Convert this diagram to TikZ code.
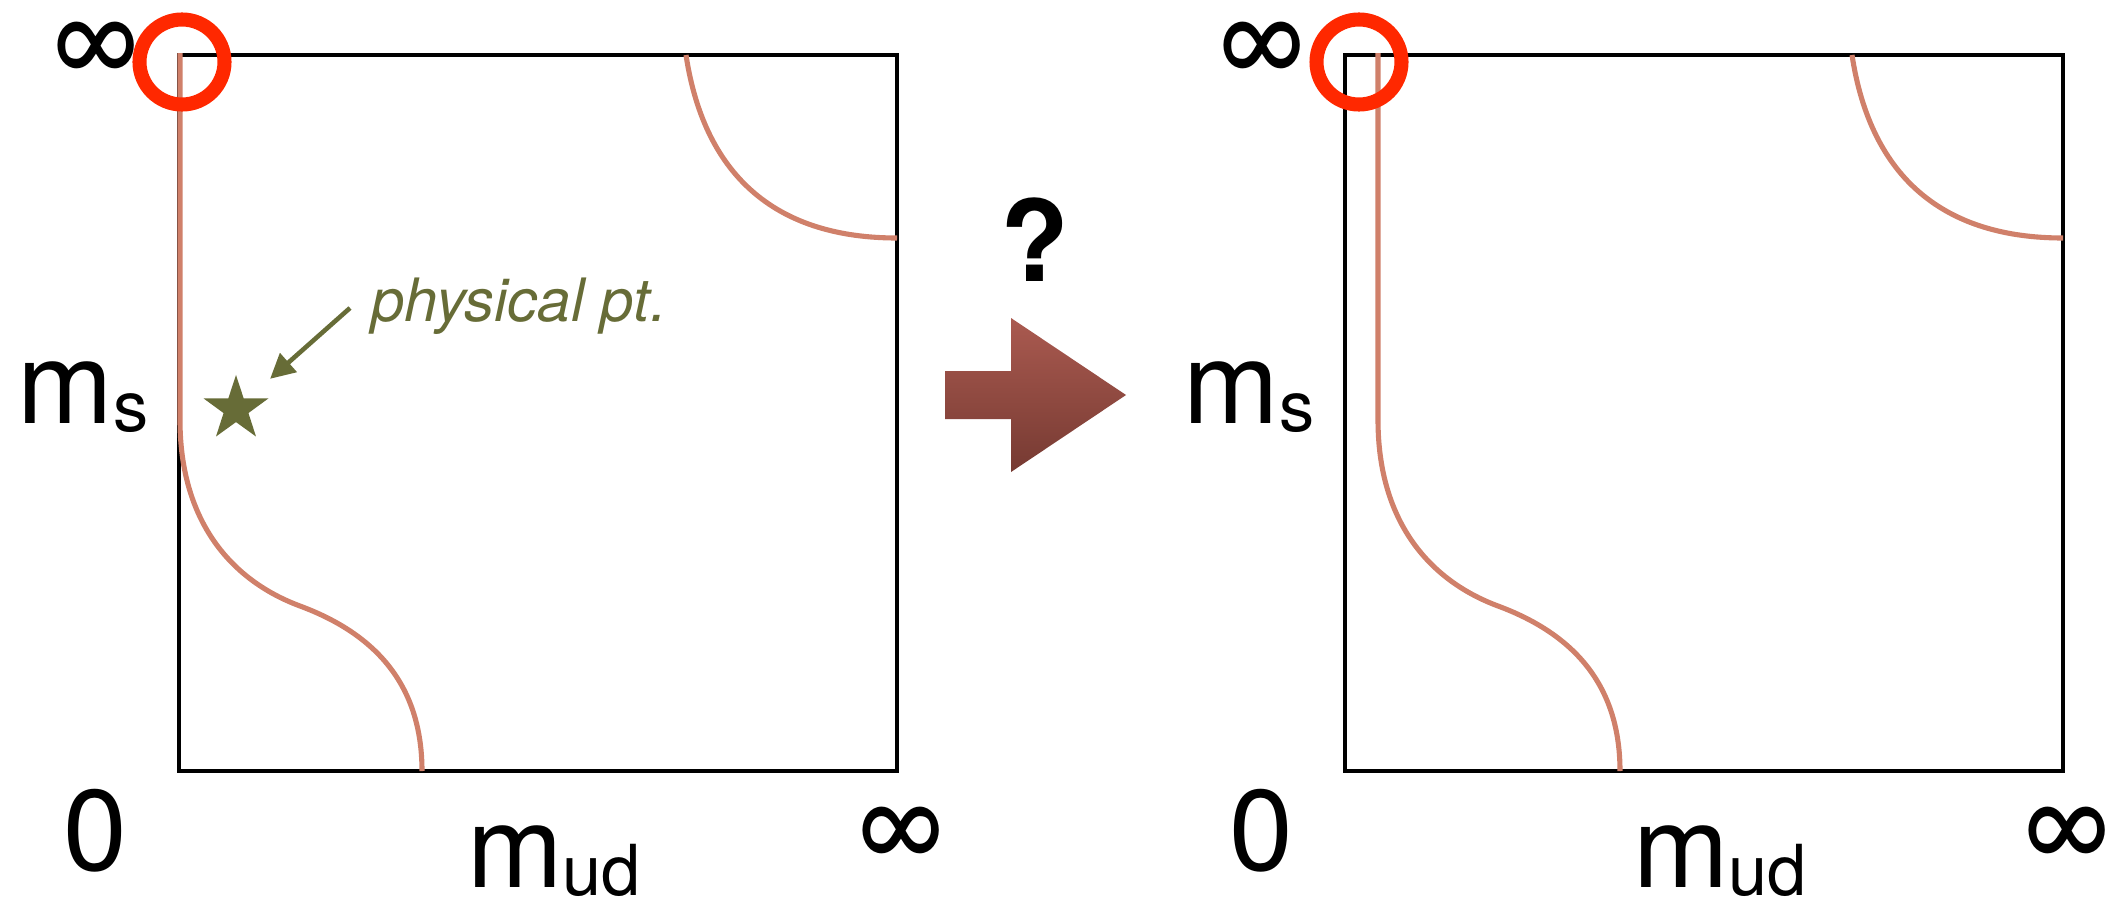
\documentclass[tikz,border=0pt]{standalone}
\usepackage{fontspec}
\setmainfont{TeX Gyre Heros}
\usetikzlibrary{shapes.geometric, arrows.meta, positioning, calc}
\definecolor{curvecolor}{RGB}{208, 128, 106}
\definecolor{ringred}{RGB}{255, 40, 0}
\definecolor{olivegreen}{RGB}{103, 108, 55}
\definecolor{arrowtop}{RGB}{170, 90, 80}
\definecolor{arrowbottom}{RGB}{118, 58, 50}
\newcommand{\massname}[1]{m\raisebox{-2.4pt}{\fontsize{20}{20}\selectfont #1}}

\begin{document}
\begin{tikzpicture}[
    x=0.01cm, y=-0.01cm,
    frame/.style={draw=black, line width=1.4pt},
    transition/.style={draw=curvecolor, line width=1.45pt},
    ring/.style={draw=ringred, line width=4pt},
    axislabel/.style={inner sep=0pt, font=\fontsize{32.6}{36}\selectfont},
    ptarrow/.style={-{Triangle[length=7pt, width=7pt]}, line width=1.3pt, olivegreen}
  ]
  \useasboundingbox (0,0) rectangle (2118,897);

  % Two panels: box, transition lines, labels, corner ring
  \foreach \dx/\cs/\rx [count=\i] in {0/0/182, 1166/32/193} {
    \begin{scope}[shift={(\dx,0)}]
      \draw[frame] (179,55) rectangle (897,771);
      \begin{scope}[shift={(\cs,0)}]
        \draw[transition] (180,53) -- (180,420)
          .. controls (180,520) and (230,580) .. (300,606)
          .. controls (370,632) and (422,680) .. (422,771);
      \end{scope}
      \draw[transition] (686,55) .. controls (705,180) and (780,238) .. (897,238);

      \node[axislabel] (inftop\i) at (96,49) {∞};
      \node[axislabel, anchor=base] (ms\i) at (83,423) {\massname{s}};
      \node[axislabel, anchor=base] (zero\i) at (95,870) {0};
      \node[axislabel, anchor=base] (mud\i) at (554,887) {\massname{ud}};
      \node[axislabel] (infright\i) at (901,834) {∞};

      \draw[ring] (\rx,62) circle (42.5);
    \end{scope}
  }

  % Physical point
  \node[star, star points=5, star point ratio=2.6, fill=olivegreen, minimum size=0.68cm, inner sep=0pt] (physstar) at (236,409) {};
  \node[inner sep=0pt, anchor=base west, text=olivegreen, font=\itshape\fontsize{17}{20}\selectfont] (physlabel) at (371,321) {physical pt.};
  \coordinate (physarrow) at (350,308);
  \draw[ptarrow, shorten >=0.455cm] (physarrow) -- (physstar.center);

  % Big arrow with question mark
  \shade[top color=arrowtop, bottom color=arrowbottom] (945,371) -- (1011,371) -- (1011,318) -- (1126,395) -- (1011,472) -- (1011,419) -- (945,419) -- cycle;
  \node[inner sep=0pt, anchor=base, font=\bfseries\fontsize{32}{36}\selectfont] (question) at (1035,281) {?};
\end{tikzpicture}
\end{document}
